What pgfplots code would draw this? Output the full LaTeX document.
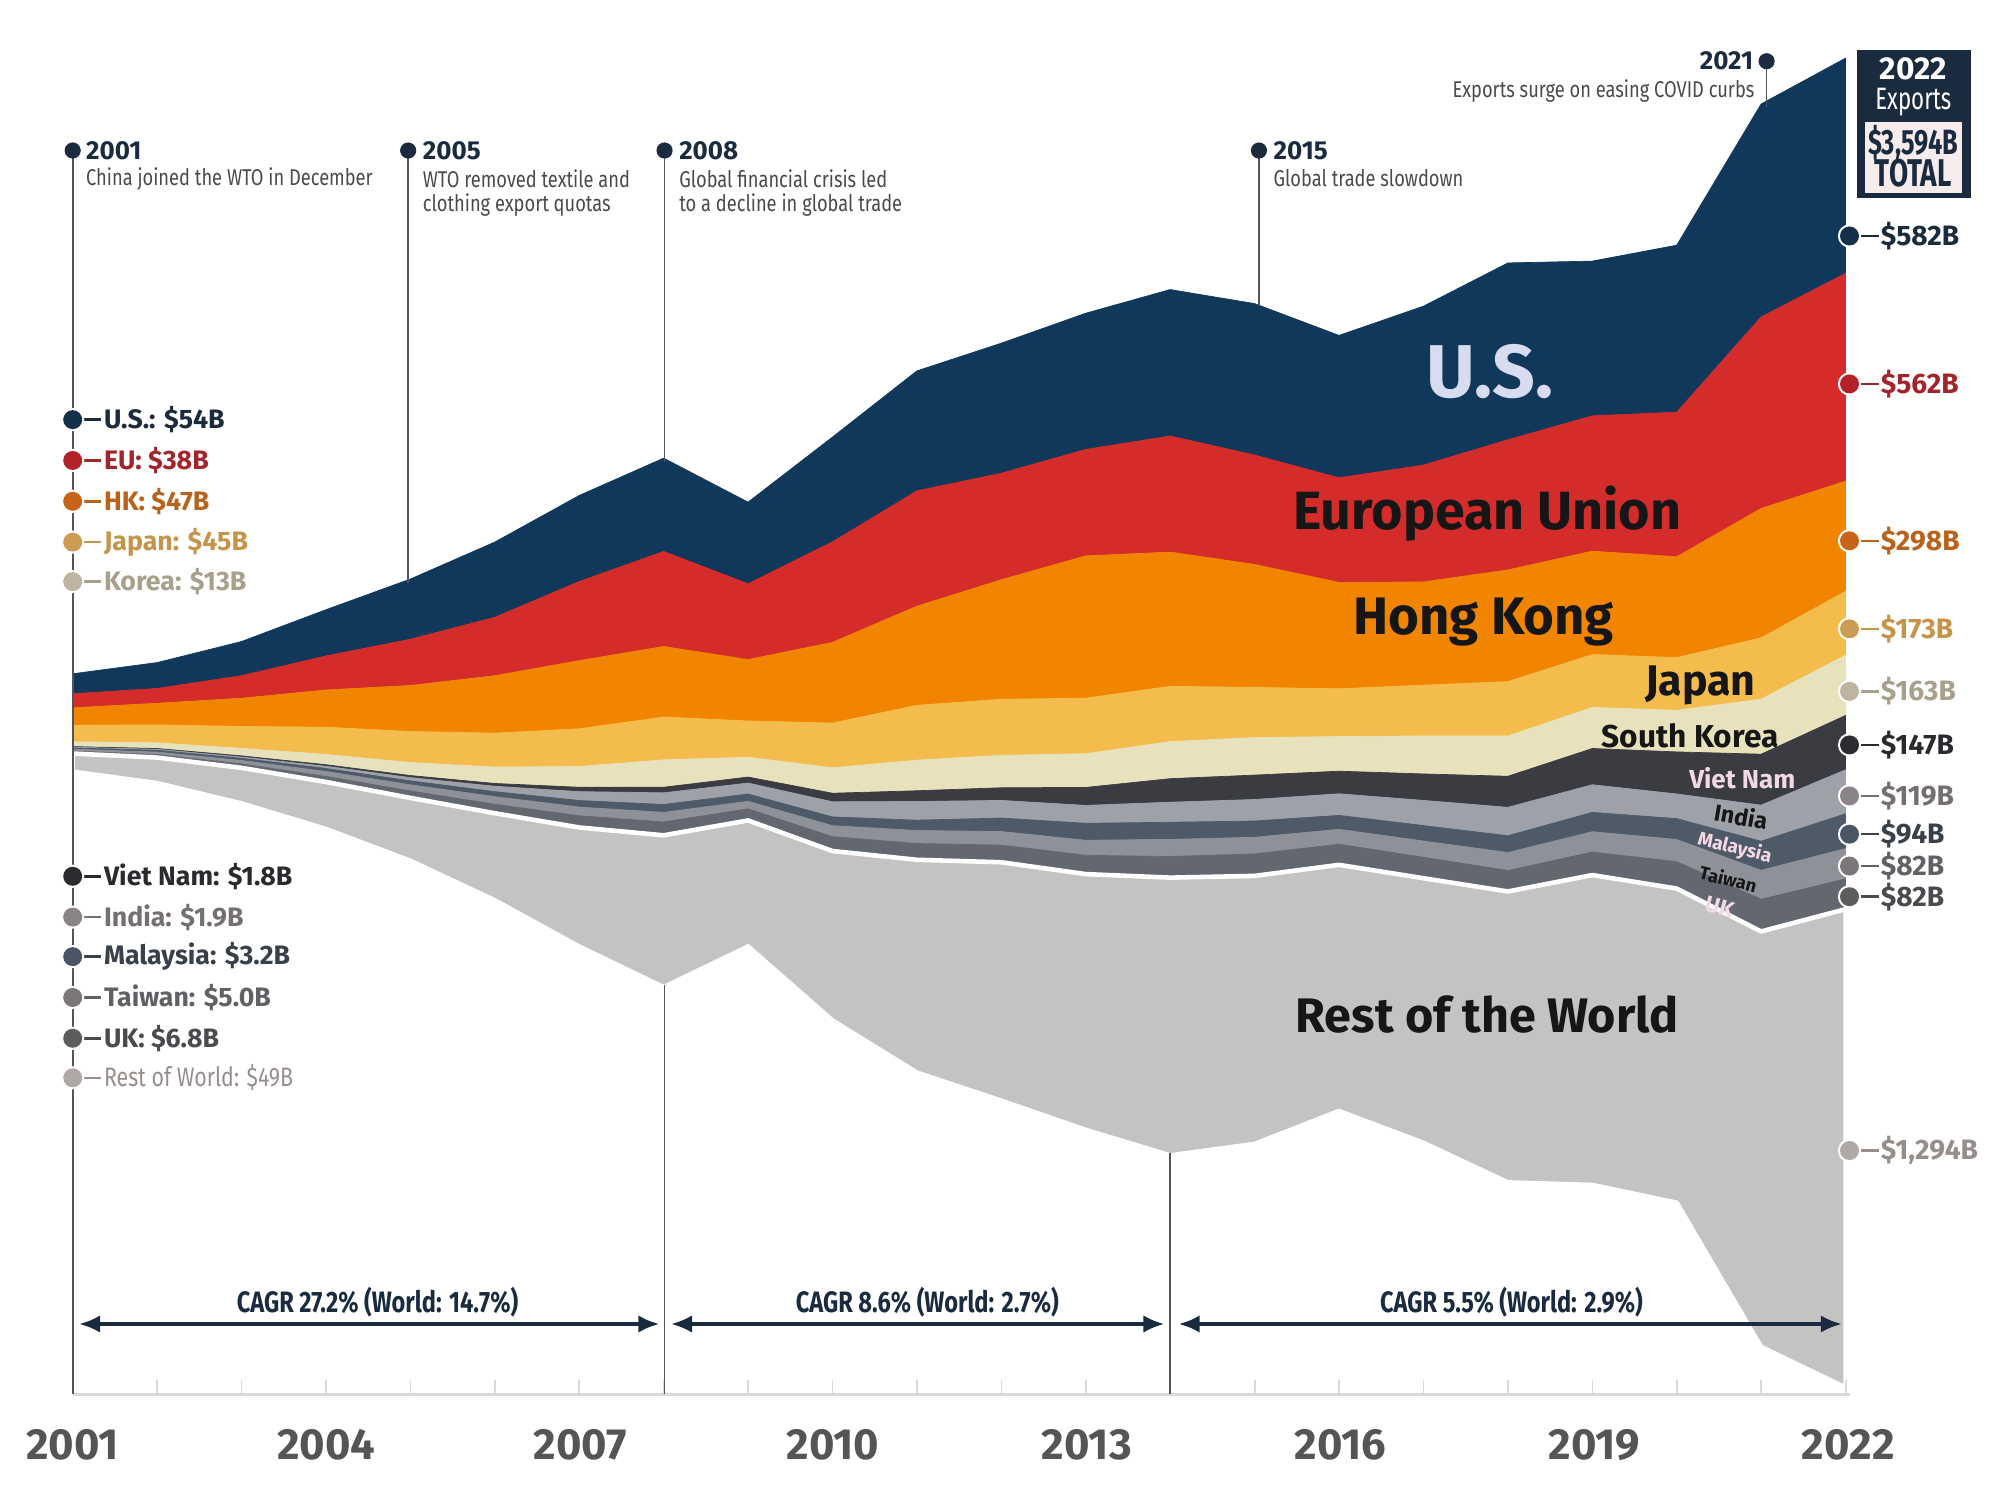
\documentclass[border=0pt]{standalone}
\usepackage{pgfplots}
\pgfplotsset{compat=1.18}
\usepackage{pgfplotstable}
\usepackage{fontspec}
\setmainfont{Fira Sans}
\newfontfamily\annfont{Fira Sans}[FakeStretch=0.8]
\newfontfamily\cfont{Fira Sans}[FakeStretch=0.72]
\usetikzlibrary{arrows.meta}
\newcommand\fs[1]{\fontsize{#1}{#1}\selectfont}

\definecolor{cUS}{HTML}{10385A}
\definecolor{cEU}{HTML}{D42B2B}
\definecolor{cHK}{HTML}{F28500}
\definecolor{cJP}{HTML}{F3BC4C}
\definecolor{cKR}{HTML}{E8E2BC}
\definecolor{cVN}{HTML}{3A3C42}
\definecolor{cIN}{HTML}{9EA1A8}
\definecolor{cMY}{HTML}{4F5A69}
\definecolor{cTW}{HTML}{8E9198}
\definecolor{cUK}{HTML}{63676F}
\definecolor{cRW}{HTML}{C3C3C3}
\definecolor{navy}{HTML}{1A2B40}
\definecolor{linec}{HTML}{50555C}
\definecolor{anntext}{HTML}{4A4A4A}
\definecolor{yearc}{HTML}{555555}
\definecolor{dark}{HTML}{161616}
\definecolor{uslab}{HTML}{D8DCF0}
\definecolor{pinkl}{HTML}{F2D9E3}
\definecolor{boxin}{HTML}{F6ECEC}
% legend colours
\definecolor{dUS}{HTML}{15304A}\definecolor{tUS}{HTML}{1B2B3C}
\definecolor{dEU}{HTML}{B22228}\definecolor{tEU}{HTML}{A3242A}
\definecolor{dHK}{HTML}{C8641A}\definecolor{tHK}{HTML}{B8621C}
\definecolor{dJP}{HTML}{CC9C52}\definecolor{tJP}{HTML}{C4944A}
\definecolor{dKR}{HTML}{BDB4A2}\definecolor{tKR}{HTML}{A89F8C}
\definecolor{dVN}{HTML}{2C2C30}\definecolor{tVN}{HTML}{2A2A2E}
\definecolor{dIN}{HTML}{8A8488}\definecolor{tIN}{HTML}{756F73}
\definecolor{dMY}{HTML}{4A5566}\definecolor{tMY}{HTML}{3A404A}
\definecolor{dTW}{HTML}{7A7679}\definecolor{tTW}{HTML}{626065}
\definecolor{dUK}{HTML}{5E5B5F}\definecolor{tUK}{HTML}{4C4A4E}
\definecolor{dRW}{HTML}{B0A8A6}\definecolor{tRW}{HTML}{978E8C}

% China's exports by destination, US$ billions; base = invisible offset of the stream
\pgfplotstableread{
year base row uk tw my in vn kr jp hk eu us
2001 1687 49 6.8 5.0 3.2 1.9 1.8 13 45 47 38 54
2002 1656 69.1 8.1 6.6 5.0 2.7 2.1 15.5 48.4 58.5 40 70.0
2003 1601 96.3 10.8 9.0 6.1 3.3 3.2 20.1 59.4 76.3 61 92.5
2004 1532 127.1 14.9 13.5 8.1 5.9 4.3 27.8 73.5 100.9 92 125.0
2005 1446 170 18.9 16.5 10.6 8.9 5.6 35.1 84.0 124.5 125 162.9
2006 1339 235.5 24.2 20.7 13.5 14.6 7.5 44.5 91.6 155.4 158 203.5
2007 1214 322 31.7 23.5 17.7 24.0 11.9 56.1 102.0 184.4 214 232.7
2008 1104 410.8 36.1 25.9 21.4 31.5 15.1 74.0 116.1 190.7 257 252.4
2009 1214 341 31.3 20.5 19.6 29.7 16.3 53.7 97.9 166.2 205 220.8
2010 1014 458.3 38.8 29.7 23.8 40.9 23.1 68.8 121.0 218.3 272 283.3
2011 873 575.6 44.1 35.1 27.9 50.5 29.1 82.9 148.3 268.0 312 324.5
2012 797 644.9 46.3 36.8 36.5 47.7 34.2 87.7 151.6 323.5 288 351.8
2013 718 691.9 50.9 40.6 45.9 48.4 48.6 91.2 150.3 384.8 288 368.4
2014 649 751.3 57.1 46.3 46.4 54.2 63.7 100.3 149.4 363.2 314 396.1
2015 680 725 59.6 44.9 44.0 58.2 66.0 101.4 135.6 332.7 296 409.6
2016 769 665.9 55.7 40.4 37.7 58.4 61.1 93.7 129.3 287.7 283 385.1
2017 683 715.7 56.7 44.0 41.7 68.1 71.6 102.8 137.3 279.3 316 429.8
2018 576 786.9 56.6 48.7 45.4 76.9 84.0 109.0 147.1 302.0 352 478.4
2019 569 838.2 62.3 55.1 52.2 74.8 98.0 111.0 143.2 279.6 366 418.6
2020 521 849.8 72.6 60.1 56.4 66.7 113.8 112.5 142.6 272.7 391 451.8
2021 131 1123.7 87.0 78.4 78.7 97.5 137.9 148.9 165.8 350.0 518 576.1
2022 21 1294 82 82 94 119 147 163 173 298 562 582
}\data

\begin{document}
\begin{tikzpicture}
\begin{axis}[width=20cm,height=14.9745cm,scale only axis,
  xmin=2000.139,xmax=2023.828,ymin=-276,ymax=3774.3,
  hide axis, stack plots=y, no markers]
\addplot[draw=none] table[x=year,y=base]{\data};
\addplot[fill=cRW,draw=white,line width=1.3pt] table[x=year,y=row]{\data} \closedcycle;
\addplot[fill=cUK,draw=cUK,line width=0.2pt] table[x=year,y=uk]{\data} \closedcycle;
\addplot[fill=cTW,draw=cTW,line width=0.2pt] table[x=year,y=tw]{\data} \closedcycle;
\addplot[fill=cMY,draw=cMY,line width=0.2pt] table[x=year,y=my]{\data} \closedcycle;
\addplot[fill=cIN,draw=cIN,line width=0.2pt] table[x=year,y=in]{\data} \closedcycle;
\addplot[fill=cVN,draw=cVN,line width=0.2pt] table[x=year,y=vn]{\data} \closedcycle;
\addplot[fill=cKR,draw=cKR,line width=0.2pt] table[x=year,y=kr]{\data} \closedcycle;
\addplot[fill=cJP,draw=cJP,line width=0.2pt] table[x=year,y=jp]{\data} \closedcycle;
\addplot[fill=cHK,draw=cHK,line width=0.2pt] table[x=year,y=hk]{\data} \closedcycle;
\addplot[fill=cEU,draw=cEU,line width=0.2pt] table[x=year,y=eu]{\data} \closedcycle;
\addplot[fill=cUS,draw=cUS,line width=0.2pt] table[x=year,y=us]{\data} \closedcycle;
\end{axis}

\begin{scope}[x=0.0127551cm,y=-0.0127551cm,shift={(0,14.9745cm)}]
\path (0,0) rectangle (1568,1174);
% x axis
\draw[black!15,line width=0.8pt] (57,1093) -- (1450,1093);
\foreach \i in {0,...,21} \draw[black!15,line width=0.5pt] ({57+66.19*\i},1082) -- ({57+66.19*\i},1093);
\foreach \yr/\px in {2001/57,2004/256,2007/455,2010/653,2013/852,2016/1051,2019/1250,2022/1449}
  \node[font={\bfseries\fs{12.4}},text=yearc] at (\px,1133) {\yr};

% timeline lines
\draw[linec,line width=0.5pt] (57,118) -- (57,1093);
\draw[linec,line width=0.5pt] (320,118) -- (320,457);
\draw[linec,line width=0.5pt] (521,118) -- (521,362);
\draw[linec,line width=0.5pt] (521,772) -- (521,1093);
\draw[linec,line width=0.5pt] (917.5,904) -- (917.5,1093);
\draw[linec,line width=0.5pt] (987,118) -- (987,240);
\draw[linec,line width=0.5pt] (1385,48) -- (1385,84);
\foreach \px/\py in {57/118,320/118,521/118,987/118,1385/48}
  \fill[navy] (\px,\py) circle (2.3pt);

% event notes
\node[anchor=west,font={\bfseries\fs{7.4}},text=navy,inner sep=0pt] at (67,118) {2001};
\node[anchor=west,font={\annfont\fs{6.5}},text=anntext,inner sep=0pt] at (67,140) {China joined the WTO in December};
\node[anchor=west,font={\bfseries\fs{7.4}},text=navy,inner sep=0pt] at (331,118) {2005};
\node[anchor=west,font={\annfont\fs{6.5}},text=anntext,inner sep=0pt] at (331,140) {WTO removed textile and};
\node[anchor=west,font={\annfont\fs{6.5}},text=anntext,inner sep=0pt] at (331,161) {clothing export quotas};
\node[anchor=west,font={\bfseries\fs{7.4}},text=navy,inner sep=0pt] at (532,118) {2008};
\node[anchor=west,font={\annfont\fs{6.5}},text=anntext,inner sep=0pt] at (532,140) {Global financial crisis led};
\node[anchor=west,font={\annfont\fs{6.5}},text=anntext,inner sep=0pt] at (532,161) {to a decline in global trade};
\node[anchor=west,font={\bfseries\fs{7.4}},text=navy,inner sep=0pt] at (998,118) {2015};
\node[anchor=west,font={\annfont\fs{6.5}},text=anntext,inner sep=0pt] at (998,140) {Global trade slowdown};
\node[anchor=east,font={\bfseries\fs{7.4}},text=navy,inner sep=0pt] at (1375,48) {2021};
\node[anchor=east,font={\annfont\fs{6.5}},text=anntext,inner sep=0pt] at (1376,71) {Exports surge on easing COVID curbs};

% total box
\fill[navy] (1456,39) rectangle (1545,155);
\fill[boxin] (1462,96) rectangle (1538,151);
\node[font={\bfseries\fs{9}},text=white,inner sep=0pt] at (1500,54) {2022};
\node[font={\cfont\fs{8.8}},text=white,inner sep=0pt] at (1500,80) {Exports};
\node[font={\cfont\bfseries\fs{10}},text=navy,inner sep=0pt] at (1500,112) {\$3,594B};
\node[font={\cfont\bfseries\fs{11}},text=navy,inner sep=0pt] at (1500,136) {TOTAL};

% left legend
\foreach \py/\dc/\tc/\lab in {329/dUS/tUS/{U.S.: \$54B},361/dEU/tEU/{EU: \$38B},393/dHK/tHK/{HK: \$47B},425/dJP/tJP/{Japan: \$45B},456/dKR/tKR/{Korea: \$13B},687/dVN/tVN/{Viet Nam: \$1.8B},719/dIN/tIN/{India: \$1.9B},750/dMY/tMY/{Malaysia: \$3.2B},782/dTW/tTW/{Taiwan: \$5.0B},814/dUK/tUK/{UK: \$6.8B}}{
  \draw[\tc,line width=0.7pt] (57,\py) -- (79,\py);
  \fill[white] (57,\py) circle (3.3pt);
  \fill[\dc] (57,\py) circle (2.7pt);
  \node[anchor=west,font={\bfseries\fs{7.6}},text=\tc,inner sep=0pt] at (81,\py) {\lab};
}
\draw[tRW,line width=0.7pt] (57,845) -- (79,845);
\fill[white] (57,845) circle (3.3pt);
\fill[dRW] (57,845) circle (2.7pt);
\node[anchor=west,font={\annfont\fs{7.6}},text=tRW,inner sep=0pt] at (81,845) {Rest of World: \$49B};

% right labels
\foreach \py/\dc/\tc/\lab in {185/dUS/tUS/{\$582B},301/dEU/tEU/{\$562B},424/dHK/tHK/{\$298B},493/dJP/tJP/{\$173B},542/dKR/tKR/{\$163B},584/dVN/tVN/{\$147B},624/dIN/tIN/{\$119B},654/dMY/tMY/{\$94B},679/dTW/tTW/{\$82B},703/dUK/tUK/{\$82B},902/dRW/tRW/{\$1,294B}}{
  \draw[\tc,line width=0.7pt] (1450,\py) -- (1473,\py);
  \fill[white] (1450,\py) circle (3.3pt);
  \fill[\dc] (1450,\py) circle (2.7pt);
  \node[anchor=west,font={\bfseries\fs{8}},text=\tc,inner sep=0pt] at (1474,\py) {\lab};
}

% stream labels
\node[font={\bfseries\fs{21.3}},text=uslab] at (1168,291) {U.S.};
\node[font={\bfseries\fs{15.3}},text=dark] at (1166,403) {European Union};
\node[font={\bfseries\fs{15}},text=dark] at (1163,488) {Hong Kong};
\node[font={\bfseries\fs{12.2}},text=dark] at (1333,537) {Japan};
\node[font={\bfseries\fs{9}},text=dark] at (1325,577) {South Korea};
\node[font={\bfseries\fs{7.4}},text=pinkl] at (1366,610) {Viet Nam};
\node[font={\bfseries\fs{6.6}},text=dark,rotate=-10,inner sep=0pt] at (1365,640) {India};
\node[font={\bfseries\fs{5.4}},text=pinkl,rotate=-14,inner sep=0pt] at (1360,665) {Malaysia};
\node[font={\bfseries\fs{5.2}},text=dark,rotate=-14,inner sep=0pt] at (1355,689) {Taiwan};
\node[font={\bfseries\fs{6.4}},text=pinkl,rotate=-16,inner sep=0pt] at (1348,711) {UK};
\node[font={\bfseries\fs{13.8}},text=dark] at (1166,795) {Rest of the World};

% CAGR arrows
\draw[navy,line width=1.1pt,{Latex[length=6pt,width=5pt]}-{Latex[length=6pt,width=5pt]}] (62,1038) -- (517,1038);
\draw[navy,line width=1.1pt,{Latex[length=6pt,width=5pt]}-{Latex[length=6pt,width=5pt]}] (526,1038) -- (913,1038);
\draw[navy,line width=1.1pt,{Latex[length=6pt,width=5pt]}-{Latex[length=6pt,width=5pt]}] (924,1038) -- (1444,1038);
\node[font={\annfont\bfseries\fs{8.4}},text=navy] at (296,1021) {CAGR 27.2\% (World: 14.7\%)};
\node[font={\annfont\bfseries\fs{8.4}},text=navy] at (727,1021) {CAGR 8.6\% (World: 2.7\%)};
\node[font={\annfont\bfseries\fs{8.4}},text=navy] at (1185,1021) {CAGR 5.5\% (World: 2.9\%)};
\end{scope}
\end{tikzpicture}
\end{document}
